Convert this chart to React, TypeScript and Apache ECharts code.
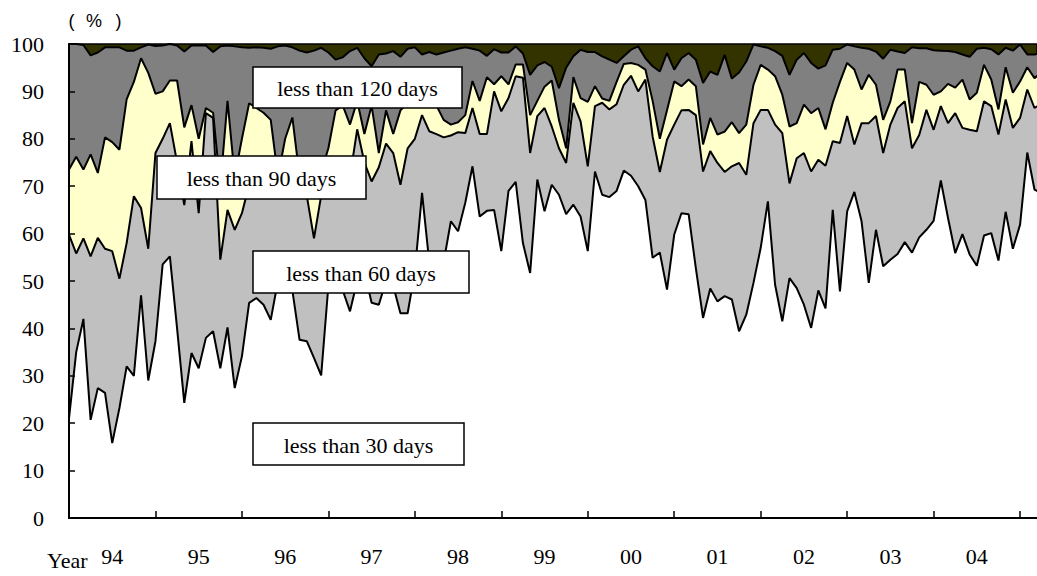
import React, { useEffect, useRef } from "react";
import * as echarts from "echarts";

// Year labels (centred on each year) on the x axis
const YEAR_LABELS = ["94", "95", "96", "97", "98", "99", "00", "01", "02", "03", "04"];
const MONTHS_PER_YEAR = 12;

// Cumulative shares (%) per month, Jan 1994 onwards
const LESS_30 = [
  21, 35, 42, 20.7, 27.4, 26.4, 15.8, 23.2, 32, 30, 47, 29,
  37.3, 53.5, 55.2, 40, 24.3, 34.8, 31.6, 38, 39.4, 31.6, 40.2, 27.4,
  34.1, 45.4, 46.4, 45, 41.8, 50, 50, 48, 37.6, 37.3, 33.8, 30.1,
  49, 52, 48, 43.6, 50, 52, 45.4, 45, 50, 49, 43.2, 43.2,
  52, 68.6, 54, 55, 54, 62.6, 60.5, 66.5, 74.2, 63.6, 64.8, 65,
  56.3, 69, 70.9, 58, 51.7, 71.4, 64.7, 70.3, 68.2, 64.1, 66.1, 63.6,
  56.3, 73.1, 68.2, 67.7, 69, 73.3, 72.2, 70, 67.1, 54.9, 56, 48.2,
  59.8, 64.3, 64.1, 52.7, 42.2, 48.4, 45.7, 46.8, 46.1, 39.4, 42.9, 49.6,
  57, 66.8, 49.2, 41.5, 50.6, 48.5, 45, 40.1, 48, 44.2, 65, 47.8,
  64.7, 68.8, 62.6, 49.6, 60.8, 53.1, 54.5, 55.7, 58.2, 56, 59.2, 60.8,
  62.7, 71.2, 63.3, 55.9, 59.9, 55.6, 53.2, 59.6, 60.1, 54.3, 64.6, 56.8,
  61.9, 77.1, 69.3, 68.5,
];
const LESS_60 = [
  59.8, 55.8, 59, 55.2, 59.1, 56.8, 56.3, 50.5, 58, 67.9, 65.4, 56.8,
  77, 80, 83.3, 75, 66, 79.5, 64.3, 85.4, 84.4, 54.5, 65, 60.8,
  64.3, 70.3, 72, 73, 71, 70, 76, 74, 69, 68, 59, 68,
  70, 74, 70, 72, 82, 75, 71, 74, 79, 77, 70.3, 78,
  80, 85, 81.6, 81, 80.3, 80.7, 81.4, 81.2, 86.5, 81, 81, 90,
  85.8, 88.6, 93.2, 92.9, 77, 84.8, 86.5, 82.6, 78, 74.9, 87.6, 83.7,
  74.2, 86.9, 87.6, 86.2, 87.3, 91.4, 93.3, 90, 92.5, 80.5, 73, 79.8,
  83, 86, 86.1, 85, 73.1, 77.4, 74.9, 73, 74.2, 74.9, 72.4, 83.3,
  86.1, 86.1, 83, 81.2, 70.6, 75.9, 77, 73.1, 75.6, 74.3, 79.5, 79.1,
  84.8, 78.8, 83.3, 83.3, 84.8, 77, 83, 86.5, 87.9, 78, 80.8, 86.1,
  81.9, 86.9, 83.3, 85.4, 82.3, 81.9, 81.6, 87.9, 86.9, 80.9, 88.3, 82.3,
  84.4, 90.4, 86.5, 87.5,
];
const LESS_90 = [
  73.5, 76.2, 73.5, 76.7, 72.8, 80.3, 79.3, 77.7, 88.3, 92, 97, 93.9,
  89.5, 90, 92.3, 92.3, 82.4, 87.1, 80, 86.5, 85.5, 70, 88, 72,
  80, 87.5, 86.5, 85.5, 84, 72, 80, 84.5, 72, 72, 71, 73,
  78, 86, 87, 83, 88, 81, 87, 77, 86, 81, 86, 87.5,
  88, 89, 88, 87, 84, 83, 83.5, 85, 92.2, 88, 93, 91.5,
  93.2, 91.5, 95.7, 95.7, 85, 88, 91, 92.3, 84, 78, 93, 88.6,
  87.8, 91.1, 88.5, 88, 92, 95.8, 96, 95.6, 94.6, 88, 80, 86,
  92.1, 91.1, 92.5, 91.1, 78.8, 84.4, 80.9, 81.5, 83.5, 81.2, 83, 91.4,
  95.6, 94.6, 93.2, 89.3, 82.6, 83.3, 87.2, 85.4, 86.5, 82, 87.6, 92,
  96, 94.6, 90.4, 93.5, 91.4, 84, 87.9, 94.6, 94.6, 83.3, 92, 91.4,
  89.3, 90, 91.6, 90.8, 92.5, 88.3, 89.7, 95.6, 92.5, 86.2, 95.1, 89.7,
  92.1, 95.1, 92.8, 94,
];
const LESS_120 = [
  100, 100, 99.8, 97.6, 98.2, 99.3, 99.3, 99.3, 98.6, 98.6, 99.3, 99.9,
  99.6, 99.7, 100, 99.7, 98.4, 99.7, 99.7, 99.7, 98.3, 99.5, 99.7, 99.5,
  99.3, 99.2, 99.3, 99.2, 99, 99.5, 99.7, 99.3, 98.6, 98.2, 98.6, 99.2,
  98.2, 96.7, 97.2, 98.5, 99.2, 97, 95.3, 97.8, 98, 98.5, 97.3, 99,
  99.3, 97.8, 98.3, 97.8, 98.2, 98.6, 99, 99.3, 99, 98.6, 97.5, 98.9,
  98.2, 98.2, 99.5, 98, 93.5, 95.5, 96.2, 95.2, 90.7, 95, 97.4, 98.8,
  98.3, 98.3, 97.4, 96.7, 96, 97.4, 98.8, 99.5, 97, 95.3, 94.2, 98.1,
  94.6, 97, 98.1, 96.7, 91.8, 94.2, 93.5, 97.7, 92.7, 94, 96.3, 99.9,
  99.5, 99.2, 98.5, 97.5, 93.5, 96.7, 98.1, 96, 94.8, 95.5, 98.8, 99,
  99.9, 99.5, 99.2, 99, 98.4, 96.9, 98.8, 98.4, 98.1, 99.3, 99.1, 99.1,
  98.7, 98.6, 98.5, 98.3, 97.8, 97.3, 99, 99.2, 98.9, 97.8, 99.2, 98.6,
  99.9, 97.8, 97.8, 98,
];

const BOX_LABELS = ["less than 120 days", "less than 90 days", "less than 60 days", "less than 30 days"];

const SERIF = "'Liberation Serif', 'Times New Roman', serif";
const SANS = "'Liberation Sans', Arial, sans-serif";

export default function App() {
  const ref = useRef<HTMLDivElement>(null);

  useEffect(() => {
    if (!ref.current) return;
    const chart = echarts.init(ref.current, null, { renderer: "svg" });

    const toPts = (arr: number[]) => arr.map((v, i) => [i, v]);
    const mk = (name: string, data: number[], color: string) => ({
      type: "line",
      name,
      data: toPts(data),
      symbol: "none",
      showSymbol: false,
      silent: true,
      clip: true,
      lineStyle: { color: "#000", width: 2 },
      itemStyle: { color },
      areaStyle: { color, opacity: 1 },
      emphasis: { disabled: true },
    });

    const tickVals = YEAR_LABELS.map((_, k) => (k + 1) * MONTHS_PER_YEAR);
    const labelVals = YEAR_LABELS.map((_, k) => k * MONTHS_PER_YEAR + MONTHS_PER_YEAR / 2);

    const box = (x: number, y: number, w: number, h: number, text: string) => ({
      type: "group",
      z: 100,
      children: [
        { type: "rect", shape: { x, y, width: w, height: h }, style: { fill: "#fff", stroke: "#000", lineWidth: 1.5 }, z: 100 },
        {
          type: "text",
          z: 101,
          style: { x: x + w / 2, y: y + h / 2 + 1, text, align: "center", verticalAlign: "middle", font: `22px ${SERIF}`, fill: "#000" },
        },
      ],
    });

    chart.setOption({
      animation: false,
      grid: {
        left: 69,
        right: 0,
        top: 44,
        bottom: 58,
        show: true,
        backgroundColor: "#333300",
        borderColor: "#000",
        borderWidth: 1.5,
      },
      xAxis: {
        type: "value",
        min: 0,
        max: 134.35,
        z: 10,
        axisLine: { show: true, onZero: false, lineStyle: { color: "#000", width: 2 } },
        axisTick: { show: true, inside: true, length: 7, customValues: tickVals, lineStyle: { color: "#000", width: 1.5 } },
        axisLabel: {
          show: true,
          customValues: labelVals,
          formatter: (v: number) => YEAR_LABELS[Math.round((v - MONTHS_PER_YEAR / 2) / MONTHS_PER_YEAR)] ?? "",
          fontFamily: SERIF,
          fontSize: 22,
          color: "#000",
          margin: 27,
        },
        splitLine: { show: false },
      },
      yAxis: {
        type: "value",
        min: 0,
        max: 100,
        interval: 10,
        z: 10,
        axisLine: { show: true, lineStyle: { color: "#000", width: 2 } },
        axisTick: { show: true, inside: true, length: 6, lineStyle: { color: "#000", width: 1.5 } },
        axisLabel: { fontFamily: SERIF, fontSize: 22, color: "#000", margin: 25 },
        splitLine: { show: false },
      },
      series: [
        mk("less than 120 days", LESS_120, "#808080"),
        mk("less than 90 days", LESS_90, "#FFFFCC"),
        mk("less than 60 days", LESS_60, "#C0C0C0"),
        mk("less than 30 days", LESS_30, "#FFFFFF"),
      ],
      graphic: [
        box(253, 67, 209, 41, BOX_LABELS[0]),
        box(157, 156, 209, 43, BOX_LABELS[1]),
        box(253, 251, 216, 42, BOX_LABELS[2]),
        box(253, 423, 211, 42, BOX_LABELS[3]),
        { type: "text", z: 100, style: { x: 47, y: 560, text: "Year", verticalAlign: "middle", font: `22px ${SERIF}`, fill: "#000" } },
        { type: "text", z: 100, style: { x: 71.5, y: 20.5, text: "(", align: "center", verticalAlign: "middle", font: `18px ${SANS}`, fill: "#000" } },
        { type: "text", z: 100, style: { x: 94, y: 20.5, text: "%", align: "center", verticalAlign: "middle", font: `18px ${SANS}`, fill: "#000" } },
        { type: "text", z: 100, style: { x: 118.5, y: 20.5, text: ")", align: "center", verticalAlign: "middle", font: `18px ${SANS}`, fill: "#000" } },
      ],
    });

    return () => chart.dispose();
  }, []);

  return (
    <div
      ref={ref}
      style={{ position: "absolute", left: 0, top: 0, width: 1037, height: 576, background: "#fff" }}
    />
  );
}
